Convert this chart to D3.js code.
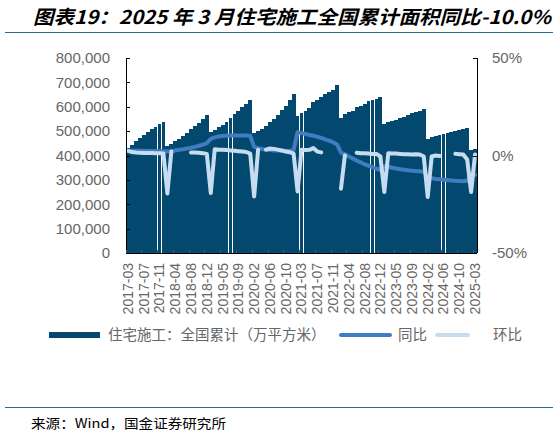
<!DOCTYPE html>
<html>
<head>
<meta charset="utf-8">
<script src="https://cdn.jsdelivr.net/npm/d3@7"></script>
<style>
  body { margin: 0; background: #fff; }
  text { font-family: "Liberation Sans", Arial, sans-serif; }
  .cjk { font-family: "Noto Sans CJK SC", sans-serif; }
</style>
</head>
<body>
<svg id="chart"></svg>
<script>
// Monthly data, January is merged into February in the source
const months = [
  "2017-03", "2017-04", "2017-05", "2017-06", "2017-07", "2017-08", "2017-09", "2017-10", "2017-11", "2017-12",
  "2018-02", "2018-03", "2018-04", "2018-05", "2018-06", "2018-07", "2018-08", "2018-09", "2018-10", "2018-11", "2018-12",
  "2019-02", "2019-03", "2019-04", "2019-05", "2019-06", "2019-07", "2019-08", "2019-09", "2019-10", "2019-11", "2019-12",
  "2020-02", "2020-03", "2020-04", "2020-05", "2020-06", "2020-07", "2020-08", "2020-09", "2020-10", "2020-11", "2020-12",
  "2021-02", "2021-03", "2021-04", "2021-05", "2021-06", "2021-07", "2021-08", "2021-09", "2021-10", "2021-11", "2021-12",
  "2022-02", "2022-03", "2022-04", "2022-05", "2022-06", "2022-07", "2022-08", "2022-09", "2022-10", "2022-11", "2022-12",
  "2023-02", "2023-03", "2023-04", "2023-05", "2023-06", "2023-07", "2023-08", "2023-09", "2023-10", "2023-11", "2023-12",
  "2024-02", "2024-03", "2024-04", "2024-05", "2024-06", "2024-07", "2024-08", "2024-09", "2024-10", "2024-11", "2024-12",
  "2025-02", "2025-03"
];

// 住宅施工：全国累计（万平方米）
const area = [
  431000, 445000, 458000, 472000, 485000, 497000, 507000, 518000, 528000, 538000,
  437000, 447000, 458000, 469000, 482000, 494000, 507000, 520000, 534000, 549000, 567000,
  496000, 505000, 516000, 527000, 539000, 554000, 570000, 584000, 597000, 611000, 627000,
  491000, 500000, 510000, 522000, 536000, 551000, 566000, 585000, 605000, 627000, 652000,
  562000, 574000, 583000, 593000, 619000, 628000, 638000, 652000, 661000, 670000, 688000,
  554000, 570000, 577000, 584000, 598000, 604000, 611000, 622000, 627000, 631000, 641000,
  529000, 536000, 540000, 546000, 554000, 559000, 566000, 573000, 577000, 584000, 590000,
  468000, 475000, 482000, 486000, 490000, 494000, 498000, 502000, 505000, 509000, 514000,
  423000, 428000
];

// 同比 (%)
const yoy = [
  2.5, 2.5, 2.4, 2.4, 2.4, 2.3, 2.3, 2.3, 2.2, 2.2,
  2.0, 2.2, 2.6, 2.9, 3.2, 3.6, 4.0, 4.4, 5.0, 5.6, 6.3,
  8.5, 9.3, 9.8, 10.0, 10.1, 10.2, 10.2, 10.2, 10.2, 10.2, 10.1,
  4.4, 3.8, 3.3, 3.0, 2.8, 2.6, 2.5, 2.4, 2.4, 2.5, 2.8,
  12.0, 11.5, 11.0, 10.5, 10.1, 9.6, 9.0, 8.3, 7.6, 6.8, 5.7,
  1.5, 0.6, -0.5, -1.5, -2.6, -3.5, -4.5, -5.2, -6.0, -6.8, -7.4,
  -5.5, -5.8, -6.3, -6.7, -7.0, -7.3, -7.6, -7.8, -8.0, -8.1, -8.3,
  -11.2, -11.6, -12.0, -12.2, -12.4, -12.6, -12.8, -13.0, -13.1, -13.2, -13.0,
  -9.3, -10.0
];

// 环比 (%), null where no point is drawn
const mom = [
  2.4, 1.8, 1.5, 1.4, 1.3, 1.3, 1.3, 1.2, 1.2, 1.0,
  -19.5, 2.0, null, null, null, null, 1.6, 1.5, 1.4, 1.2, 0.8,
  -19.3, 3.2, 3.0, 3.0, 2.8, 2.6, 2.4, 2.2, 2.0, 1.8, 1.0,
  -21.0, 3.0, null, 3.0, 3.6, 3.4, 3.0, 2.6, 2.0, 1.7, 1.0,
  -18.5, 3.0, 2.8, 2.9, 3.8, 2.0, 1.6, null, null, null, null,
  -17.0, 0.0, null, null, 1.4, 1.2, 1.2, 1.0, 0.8, 0.8, -0.5,
  -18.7, 1.2, 1.0, 1.0, 0.8, 0.6, 0.6, 0.5, 0.6, 0.5, -0.5,
  -21.3, -0.5, 0.0, -0.3, null, null, null, 0.9, 0.7, 0.5, -2.0,
  -18.7, 0.5
];

const xTicks = months.filter((d, i) => i % 4 === 0);
const leftTicks = [0, 100000, 200000, 300000, 400000, 500000, 600000, 700000, 800000];
const rightTicks = [-50, 0, 50];

const titleText = "图表19：2025 年 3 月住宅施工全国累计面积同比-10.0%";
const sourceText = "来源：Wind，国金证券研究所";
const legendNames = ["住宅施工：全国累计（万平方米）", "同比", "环比"];

const width = 559;
const height = 436;
const plot = { left: 126, right: 477, top: 58, bottom: 253 };

const barColor = "#02486f";
const yoyColor = "#3f7cc0";
const momColor = "#c8dcef";
const labelColor = "#666666";
const ruleColor = "#2b6a94";

const svg = d3.select("#chart").attr("width", width).attr("height", height);

// Scales
const x = d3
  .scaleBand()
  .domain(months)
  .range([plot.left, plot.right])
  .paddingInner(0.015)
  .paddingOuter(0);

const y = d3.scaleLinear().domain([0, 800000]).range([plot.bottom, plot.top]);
const y2 = d3.scaleLinear().domain([-50, 50]).range([plot.bottom, plot.top]);
const cx = (d) => x(d) + x.bandwidth() / 2;

// Title and rules
svg
  .append("text")
  .attr("class", "cjk")
  .attr("x", 33)
  .attr("y", 24)
  .attr("font-size", 19)
  .attr("font-weight", "bold")
  .attr("font-style", "italic")
  .attr("textLength", 518)
  .attr("lengthAdjust", "spacingAndGlyphs")
  .attr("fill", "#000")
  .text(titleText);

svg
  .append("line")
  .attr("x1", 5)
  .attr("x2", 553)
  .attr("y1", 32.5)
  .attr("y2", 32.5)
  .attr("stroke", ruleColor)
  .attr("stroke-width", 1);

svg
  .append("line")
  .attr("x1", 5)
  .attr("x2", 553)
  .attr("y1", 407.5)
  .attr("y2", 407.5)
  .attr("stroke", ruleColor)
  .attr("stroke-width", 1);

svg
  .append("text")
  .attr("class", "cjk")
  .attr("x", 31)
  .attr("y", 428)
  .attr("font-size", 13)
  .attr("textLength", 195)
  .attr("lengthAdjust", "spacingAndGlyphs")
  .attr("fill", "#000")
  .text(sourceText);

// Bars
svg
  .append("g")
  .selectAll("rect")
  .data(area)
  .enter()
  .append("rect")
  .attr("x", (d, i) => x(months[i]))
  .attr("y", (d) => y(d))
  .attr("width", x.bandwidth())
  .attr("height", (d) => y(0) - y(d))
  .attr("fill", barColor)
  .attr("shape-rendering", "crispEdges");

// Lines
const yoyLine = d3
  .line()
  .x((d, i) => cx(months[i]))
  .y((d) => y2(d));

const momLine = d3
  .line()
  .defined((d) => d !== null)
  .x((d, i) => cx(months[i]))
  .y((d) => y2(d));

svg
  .append("path")
  .datum(yoy)
  .attr("d", yoyLine)
  .attr("fill", "none")
  .attr("stroke", yoyColor)
  .attr("stroke-width", 4)
  .attr("stroke-linejoin", "round")
  .attr("stroke-linecap", "round");

svg
  .append("path")
  .datum(mom)
  .attr("d", momLine)
  .attr("fill", "none")
  .attr("stroke", momColor)
  .attr("stroke-width", 4)
  .attr("stroke-linejoin", "round")
  .attr("stroke-linecap", "round");

// Axes
const axes = svg.append("g").attr("stroke", "#000").attr("shape-rendering", "crispEdges");

axes.append("line").attr("x1", plot.left).attr("x2", plot.left).attr("y1", plot.top).attr("y2", plot.bottom);
axes.append("line").attr("x1", plot.right).attr("x2", plot.right).attr("y1", plot.top).attr("y2", plot.bottom);
axes.append("line").attr("x1", plot.left).attr("x2", plot.right).attr("y1", plot.bottom).attr("y2", plot.bottom);

axes
  .selectAll("line.lt")
  .data(leftTicks)
  .enter()
  .append("line")
  .attr("class", "lt")
  .attr("x1", plot.left)
  .attr("x2", plot.left + 4)
  .attr("y1", (d) => Math.round(y(d)) + 0.5)
  .attr("y2", (d) => Math.round(y(d)) + 0.5);

axes
  .selectAll("line.rt")
  .data(rightTicks)
  .enter()
  .append("line")
  .attr("class", "rt")
  .attr("x1", plot.right - 4)
  .attr("x2", plot.right)
  .attr("y1", (d) => Math.round(y2(d)) + 0.5)
  .attr("y2", (d) => Math.round(y2(d)) + 0.5);

axes
  .selectAll("line.bt")
  .data(xTicks)
  .enter()
  .append("line")
  .attr("class", "bt")
  .attr("stroke", "#555")
  .attr("x1", (d) => x(d))
  .attr("x2", (d) => x(d))
  .attr("y1", plot.bottom - 3)
  .attr("y2", plot.bottom);

// Axis labels
svg
  .append("g")
  .selectAll("text")
  .data(leftTicks)
  .enter()
  .append("text")
  .attr("x", 110)
  .attr("y", (d) => y(d))
  .attr("dy", "0.35em")
  .attr("text-anchor", "end")
  .attr("font-size", 15)
  .attr("fill", labelColor)
  .text((d) => d3.format(",")(d));

svg
  .append("g")
  .selectAll("text")
  .data(rightTicks)
  .enter()
  .append("text")
  .attr("x", 492)
  .attr("y", (d) => y2(d))
  .attr("dy", "0.35em")
  .attr("font-size", 15)
  .attr("fill", labelColor)
  .text((d) => d + "%");

svg
  .append("g")
  .selectAll("text")
  .data(xTicks)
  .enter()
  .append("text")
  .attr("transform", (d) => `translate(${cx(d)},${plot.bottom + 10}) rotate(-90)`)
  .attr("dy", "0.35em")
  .attr("text-anchor", "end")
  .attr("font-size", 14)
  .attr("fill", labelColor)
  .text((d) => d);

// Legend
const legendY = 335;
const legend = svg.append("g");

legend
  .append("rect")
  .attr("x", 49)
  .attr("y", legendY - 3)
  .attr("width", 51)
  .attr("height", 6)
  .attr("fill", barColor);

legend
  .append("line")
  .attr("x1", 341)
  .attr("x2", 390)
  .attr("y1", legendY)
  .attr("y2", legendY)
  .attr("stroke", yoyColor)
  .attr("stroke-width", 4)
  .attr("stroke-linecap", "round");

legend
  .append("line")
  .attr("x1", 437)
  .attr("x2", 468)
  .attr("y1", legendY)
  .attr("y2", legendY)
  .attr("stroke", momColor)
  .attr("stroke-width", 4)
  .attr("stroke-linecap", "round");

legend
  .selectAll("text")
  .data(legendNames)
  .enter()
  .append("text")
  .attr("class", "cjk")
  .attr("x", (d, i) => [108, 398, 493][i])
  .attr("y", legendY)
  .attr("dy", "0.35em")
  .attr("font-size", 14.5)
  .attr("fill", labelColor)
  .text((d) => d);
</script>
</body>
</html>
